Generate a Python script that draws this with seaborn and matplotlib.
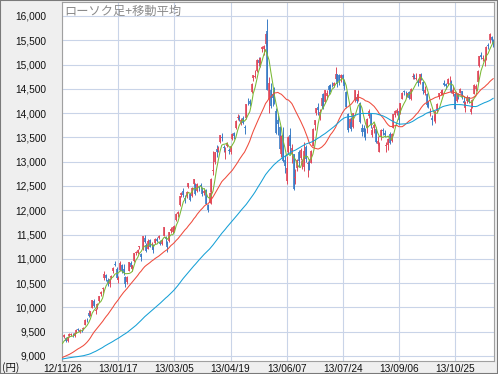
import numpy as np
import pandas as pd
import matplotlib
matplotlib.use("Agg")
import matplotlib.pyplot as plt
import seaborn as sns
from matplotlib.patches import Rectangle
from matplotlib.ticker import FuncFormatter, FixedLocator

sns.set_theme(style="white")
plt.rcParams['font.family'] = ['Liberation Sans', 'Noto Sans CJK JP', 'DejaVu Sans']

# ---------------- data ----------------
title = "ローソク足+移動平均"
unit_label = "(円)"
tick_labels = ["12/11/26", "13/01/17", "13/03/05", "13/04/19",
               "13/06/07", "13/07/24", "13/09/06", "13/10/25"]
label_every = 32          # trading days between date labels
ma_windows = [5, 25, 75]
ma_colors = {5: "#7ab934", 25: "#ef4b3c", 75: "#16a0d6"}

# closes of the trading days before the window (used only for the moving averages)
pre_closes = [
    8881, 8978, 8891, 8885, 8929, 8947, 9092, 9162, 9171, 9157, 9131, 9178, 9070, 9085, 9033, 9068, 8983, 8839,
    8784, 8783, 8679, 8680, 8871, 8869, 8807, 8959, 8995, 9159, 9123, 9232, 9086, 9110, 9069, 9091, 8906, 8949, 8870,
    8797, 8786, 8824, 8746, 8863, 8769, 8596, 8546, 8534, 8577, 8701, 8806, 8982, 9002, 9010, 8932, 8955, 9055, 8933, 8929, 8841, 8928,
    8946, 9051, 8975, 8975, 8972, 8837, 8757, 8676, 8661, 8665, 8830, 9024, 9153, 9142, 9222, 9366,
]

opens = [
    9360, 9400, 9380, 9300, 9420,
    9440, 9440, 9420, 9480, 9560, 9500, 9540, 9560, 9640, 9740, 9890, 9850, 9990, 10130, 9920, 9990, 10140, 10270, 10380,
    10600, 10660, 10560, 10480, 10600, 10750, 10880, 10790, 10560, 10770, 10880, 10800, 10630, 10530, 10760, 10920, 10790, 10950, 11120,
    11120, 11240, 11100, 11200, 11430, 11290, 11210, 11380, 11300, 11280, 11330, 11410, 11420, 11350, 11310, 11480, 11440, 11310, 11360,
    11570, 11560, 11600, 11800, 11920, 12100, 12310, 12400, 12260, 12300, 12470, 12330, 12300, 12550, 12520, 12400, 12480, 12520, 12450, 12350,
    12420, 12100, 12150, 12380, 12810, 12990, 13260, 13250, 13400, 13500, 13300, 13200, 13330, 13250, 13200, 13470, 13590, 13700, 13900, 13890, 13800,
    13900, 13710, 13900, 14300, 14240, 14440, 14730, 14750, 14860, 15090, 14970, 15320, 15330, 15420, 15700, 14300, 14480, 14400, 14430, 14040, 13850,
    13720, 13150, 13560, 13040, 12600, 13200, 13560, 13150, 13150, 12660, 12870, 13200, 13070, 12960, 12900, 13300, 12960, 13000, 12980, 13330,
    13750, 14000, 14120, 13920, 14150, 14400, 14230, 14350, 14550, 14580, 14600, 14560, 14700, 14800, 14780, 14720, 14790, 14650, 14440, 13980, 13700, 13820,
    13720, 14270, 14340, 14280, 14200, 13700, 13700, 13620, 13700, 13950, 13980, 13550, 13700, 13680, 13370, 13200, 13500, 13650, 13600, 13330, 13350, 13570,
    13420, 13700, 13970, 14000, 14040, 14000, 14300, 14450, 14400, 14370, 14430, 14290, 14750, 14760, 14700, 14670, 14630, 14770, 14640,
    14420, 14400, 14230, 14000, 13900, 13890, 13830, 14050, 14330, 14420, 14390, 14630, 14600, 14600, 14700, 14650, 14400, 14400, 14250, 14400, 14420, 14450,
    14250, 14100, 14250, 14330, 14030, 14150, 14400, 14500, 14650, 14970, 15200, 15120, 15070, 15150, 15400, 15500, 15560, 15500,
]
highs = [
    9400, 9450, 9390, 9410, 9470,
    9480, 9470, 9480, 9560, 9580, 9550, 9560, 9600, 9760, 9790, 9940, 9930, 10160, 10180, 9980, 10100, 10240, 10330, 10430,
    10740, 10680, 10600, 10600, 10670, 10830, 10950, 10830, 10640, 10950, 10890, 10890, 10650, 10640, 10930, 10950, 10880, 11120, 11170,
    11200, 11270, 11130, 11480, 11500, 11320, 11400, 11400, 11340, 11300, 11430, 11440, 11490, 11380, 11410, 11660, 11470, 11360, 11560,
    11650, 11660, 11690, 11950, 11990, 12290, 12380, 12460, 12310, 12390, 12570, 12360, 12480, 12650, 12560, 12570, 12510, 12560, 12470, 12430,
    12440, 12130, 12380, 12660, 13230, 13200, 13350, 13320, 13560, 13590, 13340, 13300, 13400, 13290, 13320, 13600, 13620, 13860, 13990, 13960, 13900,
    13950, 13760, 14190, 14320, 14300, 14620, 14790, 14880, 15110, 15150, 15160, 15390, 15400, 15650, 15942, 14750, 14630, 14480, 14540, 14100, 13970,
    13740, 13560, 13720, 13140, 13110, 13520, 13700, 13360, 13150, 12850, 13060, 13240, 13290, 13050, 13400, 13350, 13010, 13050, 13250, 13690,
    13860, 14110, 14200, 14080, 14320, 14420, 14480, 14480, 14580, 14590, 14650, 14650, 14950, 14810, 14800, 14800, 14800, 14700, 14460, 14000, 13890, 13920,
    14010, 14470, 14400, 14480, 14220, 13780, 13760, 13700, 13890, 14080, 13990, 13720, 13790, 13720, 13530, 13400, 13680, 13700, 13650, 13400, 13480, 13620,
    13600, 13980, 14060, 14110, 14070, 14210, 14430, 14480, 14460, 14420, 14460, 14510, 14820, 14800, 14820, 14700, 14800, 14820, 14660,
    14550, 14410, 14260, 14100, 13960, 13970, 14050, 14210, 14420, 14470, 14500, 14680, 14620, 14720, 14770, 14690, 14560, 14430, 14400, 14420, 14520, 14460,
    14350, 14250, 14370, 14340, 14140, 14300, 14610, 14600, 14880, 15170, 15250, 15200, 15200, 15380, 15440, 15650, 15590, 15530,
]
lows = [
    9330, 9380, 9290, 9290, 9400,
    9420, 9400, 9400, 9470, 9510, 9480, 9500, 9540, 9630, 9700, 9800, 9820, 9980, 10010, 9870, 9970, 10110, 10230, 10300,
    10560, 10550, 10450, 10430, 10580, 10700, 10860, 10580, 10500, 10750, 10700, 10660, 10430, 10490, 10750, 10820, 10760, 10940, 11080,
    11090, 11200, 10960, 11180, 11320, 11150, 11200, 11240, 11200, 11120, 11300, 11340, 11400, 11280, 11290, 11470, 11300, 11150, 11350,
    11540, 11530, 11560, 11780, 11860, 12080, 12280, 12280, 12150, 12250, 12450, 12190, 12280, 12520, 12320, 12380, 12400, 12450, 12300, 12310,
    12120, 11970, 12140, 12120, 12720, 12950, 13100, 13200, 13380, 13430, 13200, 13050, 13300, 13150, 13160, 13440, 13460, 13670, 13850, 13840, 13760,
    13780, 13570, 13880, 14170, 14140, 14420, 14660, 14720, 14850, 14970, 14940, 15250, 15200, 15380, 14483, 14000, 14100, 14150, 14190, 13580, 13550,
    13260, 13100, 13000, 12760, 12550, 13150, 13150, 12980, 12415, 12550, 12800, 12900, 13030, 12860, 12800, 13000, 12690, 12830, 12970, 13320,
    13660, 13960, 13960, 13860, 14100, 14080, 14210, 14290, 14400, 14430, 14530, 14540, 14680, 14530, 14580, 14640, 14620, 14480, 14100, 13620, 13690, 13630,
    13700, 14230, 14200, 14250, 13800, 13530, 13500, 13450, 13600, 13900, 13700, 13500, 13600, 13380, 13350, 13190, 13440, 13550, 13510, 13190, 13250, 13360,
    13400, 13690, 13920, 13960, 13750, 13990, 14290, 14380, 14330, 14330, 14300, 14270, 14710, 14700, 14680, 14560, 14600, 14690, 14390,
    14380, 14120, 14100, 13940, 13750, 13830, 13800, 14000, 14290, 14370, 14370, 14550, 14500, 14580, 14650, 14420, 14360, 14080, 14220, 14300, 14410, 14300,
    14150, 14030, 14210, 14200, 13990, 14100, 14390, 14450, 14640, 14950, 15110, 15070, 14980, 15100, 15320, 15450, 15480, 15370,
]
closes = [
    9389, 9423, 9308, 9401, 9446,
    9458, 9432, 9469, 9545, 9527, 9534, 9525, 9581, 9743, 9738, 9829, 9923, 10160, 10039, 9940, 10080, 10230, 10323, 10395,
    10688, 10599, 10508, 10579, 10653, 10802, 10879, 10600, 10610, 10913, 10748, 10710, 10487, 10620, 10927, 10824, 10867, 11114, 11139,
    11191, 11260, 11047, 11464, 11357, 11153, 11369, 11251, 11307, 11174, 11408, 11372, 11468, 11309, 11386, 11663, 11399, 11254, 11559,
    11606, 11652, 11683, 11932, 11968, 12284, 12349, 12315, 12240, 12381, 12561, 12221, 12468, 12636, 12339, 12546, 12472, 12494, 12336, 12398,
    12135, 12003, 12362, 12635, 12834, 13193, 13192, 13288, 13549, 13485, 13276, 13221, 13383, 13220, 13316, 13568, 13530, 13843, 13926, 13884, 13861,
    13799, 13694, 14180, 14286, 14191, 14608, 14782, 14758, 15096, 15037, 15138, 15361, 15381, 15627, 14484, 14612, 14143, 14312, 14326, 13589, 13775,
    13262, 13534, 13015, 12904, 12878, 13514, 13318, 13289, 12445, 12687, 13033, 13007, 13245, 13015, 13230, 13063, 12969, 12834, 13214, 13677,
    13853, 14099, 14056, 14019, 14310, 14109, 14473, 14417, 14473, 14506, 14599, 14615, 14809, 14590, 14658, 14779, 14731, 14563, 14130, 13661, 13870, 13668,
    14006, 14466, 14258, 14401, 13825, 13606, 13615, 13519, 13884, 14050, 13753, 13650, 13758, 13396, 13424, 13365, 13661, 13636, 13542, 13338, 13459, 13389,
    13573, 13978, 14054, 14065, 13861, 14205, 14423, 14425, 14387, 14405, 14312, 14505, 14766, 14742, 14733, 14621, 14799, 14760, 14456,
    14485, 14170, 14157, 14024, 13853, 13895, 14038, 14195, 14405, 14441, 14467, 14587, 14562, 14694, 14713, 14426, 14486, 14088, 14396, 14325, 14502, 14328,
    14202, 14225, 14337, 14228, 14087, 14270, 14589, 14567, 14876, 15166, 15164, 15127, 15076, 15366, 15382, 15619, 15515, 15450,
]

# ---------------- frame building ----------------
n = len(closes)
df = pd.DataFrame({"day": np.arange(n), "open": opens, "high": highs,
                   "low": lows, "close": closes}).astype({"open": float, "high": float,
                                                          "low": float, "close": float})
df["high"] = np.maximum(df["high"], df[["open", "close"]].max(axis=1))
df["low"] = np.minimum(df["low"], df[["open", "close"]].min(axis=1))
df["up"] = df["close"] >= df["open"]

all_close = pd.Series(pre_closes + closes, dtype=float)
n_pre = len(pre_closes)
ma_frames = []
for w in ma_windows:
    m = all_close.rolling(w).mean().iloc[n_pre:].to_numpy()
    ma_frames.append(pd.DataFrame({"day": np.arange(n), "value": m, "kind": w}))
ma_df = pd.concat(ma_frames, ignore_index=True)

# ---------------- figure ----------------
W, H = 498, 374
fig = plt.figure(figsize=(W / 100, H / 100), dpi=100, facecolor="#efefef")
ax = fig.add_axes([62 / W, 13 / H, 432 / W, 359 / H])
ax.set_facecolor("white")

up_col, dn_col = "#e0485a", "#3a7cc6"
colors = np.where(df["up"], up_col, dn_col)
ax.vlines(df["day"], df["low"], df["high"], colors=colors, lw=0.7, zorder=2)
body_lo = df[["open", "close"]].min(axis=1)
body_hi = df[["open", "close"]].max(axis=1)
body_hi = np.maximum(body_hi, body_lo + 8)
ax.vlines(df["day"], body_lo, body_hi, colors=colors, lw=1.2, zorder=2)

sns.lineplot(data=ma_df, x="day", y="value", hue="kind", palette=ma_colors,
             legend=False, ax=ax, lw=0.75, zorder=3)

ax.set_xlim(-0.2, 246.4)
ax.set_ylim(8897, 16288)
ax.yaxis.set_major_locator(FixedLocator(np.arange(9000, 16001, 500)))
ax.yaxis.set_major_formatter(FuncFormatter(lambda v, p: f"{int(v):,}"))
ax.xaxis.set_major_locator(FixedLocator(np.arange(0, n, label_every)[:len(tick_labels)]))
ax.set_xticklabels(tick_labels)
ax.set_xlabel("")
ax.set_ylabel("")
ax.grid(True, color="#c9d4e8", lw=0.8)
ax.set_axisbelow(True)
ax.tick_params(axis="y", length=0, pad=11.5, labelsize=7.3, labelcolor="#111111")
ax.tick_params(axis="x", length=0, pad=2.5, labelsize=7.3, labelcolor="#111111")
for side, sp in ax.spines.items():
    sp.set_color("#a0a0a0")
    sp.set_linewidth(0.8)

ax.text(0.006, 0.975, title, transform=ax.transAxes, ha="left", va="center",
        fontsize=8.8, color="#8a8a8a", family=["Noto Sans CJK JP", "DejaVu Sans"], zorder=5)
fig.text(2 / W, 1 - 368 / H, unit_label, ha="left", va="center", fontsize=7.5,
         color="#111111", family=["Noto Sans CJK JP", "DejaVu Sans"])

fig.patches.append(Rectangle((0, 0), 1, 1, transform=fig.transFigure, fill=False,
                             edgecolor="#7a7a7a", lw=1.5))

fig.savefig("out.png", dpi=100, facecolor=fig.get_facecolor())
